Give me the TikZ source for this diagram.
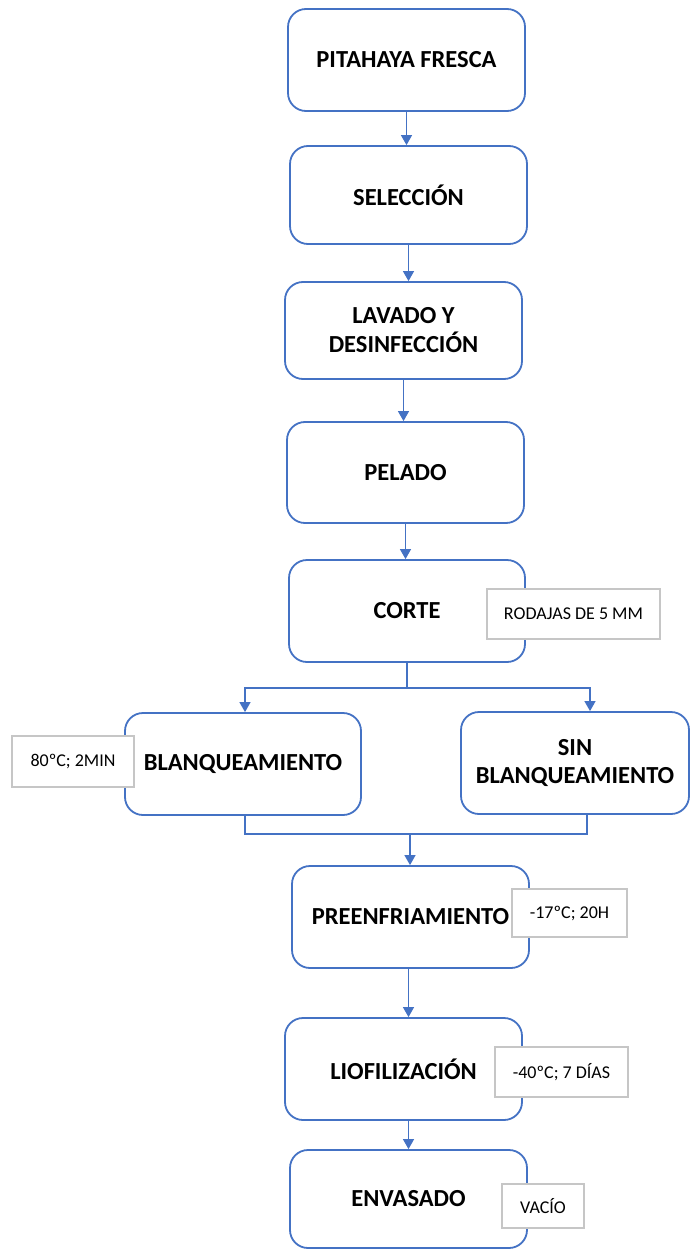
\documentclass[tikz,border=0pt]{standalone}
\usepackage{fontspec}
\setmainfont{Carlito}
\usetikzlibrary{arrows.meta}

\definecolor{azul}{HTML}{4472C4}
\definecolor{gris}{HTML}{C6C6C6}

\begin{document}
\begin{tikzpicture}[x=1pt,y=-1pt]

\tikzstyle{etapa}=[draw=azul, line width=1.8pt, rounded corners=18pt, fill=white, align=center, inner sep=0pt, font=\fontsize{24.5}{29}\selectfont\bfseries, minimum width=237pt, minimum height=102pt];
\tikzstyle{nota}=[draw=gris, line width=1.8pt, fill=white, inner sep=0pt, font=\fontsize{18}{22}\selectfont];
\tikzstyle{flecha}=[draw=azul, line width=1.3pt, -{Triangle[width=11pt,length=10pt]}];
\tikzstyle{linea}=[draw=azul, line width=1.3pt];

\useasboundingbox (0,0) rectangle (689,1249);

% etapas del proceso
\node[etapa] (pitahaya) at (406.5,60) {PITAHAYA FRESCA};
\node[etapa, minimum height=98pt] (seleccion) at (408.5,195) {SELECCIÓN};
\node[etapa, minimum height=97pt] (lavado) at (403.5,330.5) {LAVADO Y\\DESINFECCIÓN};
\node[etapa, minimum height=101pt] (pelado) at (405.5,472.5) {PELADO};
\node[etapa, minimum width=236pt] (corte) at (407,611) {CORTE};
\node[etapa, minimum width=236pt] (blanq) at (243,764) {BLANQUEAMIENTO};
\node[etapa, minimum width=228pt, font=\fontsize{24.5}{28}\selectfont\bfseries] (sinblanq) at (575,763) {SIN\\BLANQUEAMIENTO};
\node[etapa] (preenf) at (410.5,917) {PREENFRIAMIENTO};
\node[etapa] (liof) at (403.5,1069) {LIOFILIZACIÓN};
\node[etapa, minimum height=98pt] (envasado) at (408.5,1199) {ENVASADO};

% condiciones
\node[nota, minimum width=173pt, minimum height=50pt] (rodajas) at (573.5,614) {RODAJAS DE 5 MM};
\node[nota, minimum width=122pt, minimum height=51pt] (tblanq) at (73,761.5) {80ºC; 2MIN};
\node[nota, minimum width=115pt, minimum height=48pt] (tpreenf) at (569.5,913) {-17ºC; 20H};
\node[nota, minimum width=133pt, minimum height=50pt] (tliof) at (561.5,1072) {-40ºC; 7 DÍAS};
\node[nota, minimum width=82pt, minimum height=44pt] (vacio) at (543,1206) {VACÍO};

% conectores
\draw[flecha] (pitahaya.south) -- (pitahaya.south |- seleccion.north);
\draw[flecha] (seleccion.south) -- (seleccion.south |- lavado.north);
\draw[flecha] (lavado.south) -- (lavado.south |- pelado.north);
\draw[flecha] (pelado.south) -- (pelado.south |- corte.north);

\coordinate (ramal) at (407,688);
\draw[linea] (corte.south) -- (ramal);
\draw[flecha] (ramal) -| ([xshift=2pt]blanq.north);
\draw[flecha] (ramal) -| ([xshift=15pt]sinblanq.north);

\coordinate (union) at (410,834);
\draw[linea] ([xshift=2pt]blanq.south) |- (union) -| ([xshift=12pt]sinblanq.south);
\draw[flecha] (union) -- (union |- preenf.north);

\draw[flecha] ([xshift=-2pt]preenf.south) -- ([xshift=-2pt]preenf.south |- liof.north);
\draw[flecha] (envasado.north |- liof.south) -- (envasado.north);
\end{tikzpicture}
\end{document}
